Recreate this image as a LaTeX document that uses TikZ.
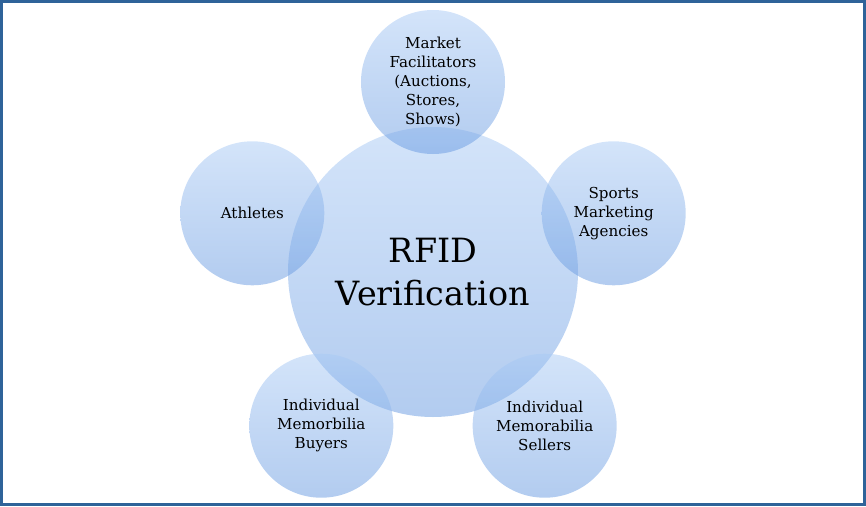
\documentclass[tikz,border=0pt]{standalone}
\usepackage{fontspec}
\setmainfont{DejaVu Serif}
\definecolor{bubtop}{rgb}{0.66,0.79,0.96}
\definecolor{bubbot}{rgb}{0.40,0.60,0.88}
\definecolor{frameblue}{HTML}{2F6399}
\tikzset{
  bubble/.style={circle,inner sep=0pt,top color=bubtop,bottom color=bubbot,
    fill opacity=0.5,text opacity=1,align=center},
  hub/.style={bubble,minimum size=8.7cm,font=\fontsize{28.5}{37.4}\selectfont},
  spoke/.style={bubble,minimum size=4.32cm,font=\fontsize{12.9}{16.4}\selectfont},
}
\begin{document}
\begin{tikzpicture}
        \useasboundingbox (-12.99,-7.02) rectangle (12.99,8.16);
        %% frame
        \draw[frameblue,line width=0.09cm] (-12.945,-6.975) rectangle (12.945,8.115);
        %% hub
        \node[hub] (rfid) at (0,0) {RFID\\Verification};
        %% spokes
        \node[spoke] (market) at (90:5.7) {Market\\Facilitators\\(Auctions,\\Stores,\\Shows)};
        \node[spoke] (agency) at (18:5.7) {Sports\\Marketing\\Agencies};
        \node[spoke] (seller) at (-54:5.7) {Individual\\Memorabilia\\Sellers};
        \node[spoke] (buyer) at (-126:5.7) {Individual\\Memorbilia\\Buyers};
        \node[spoke] (athlete) at (162:5.7) {Athletes};
    \end{tikzpicture}
\end{document}
